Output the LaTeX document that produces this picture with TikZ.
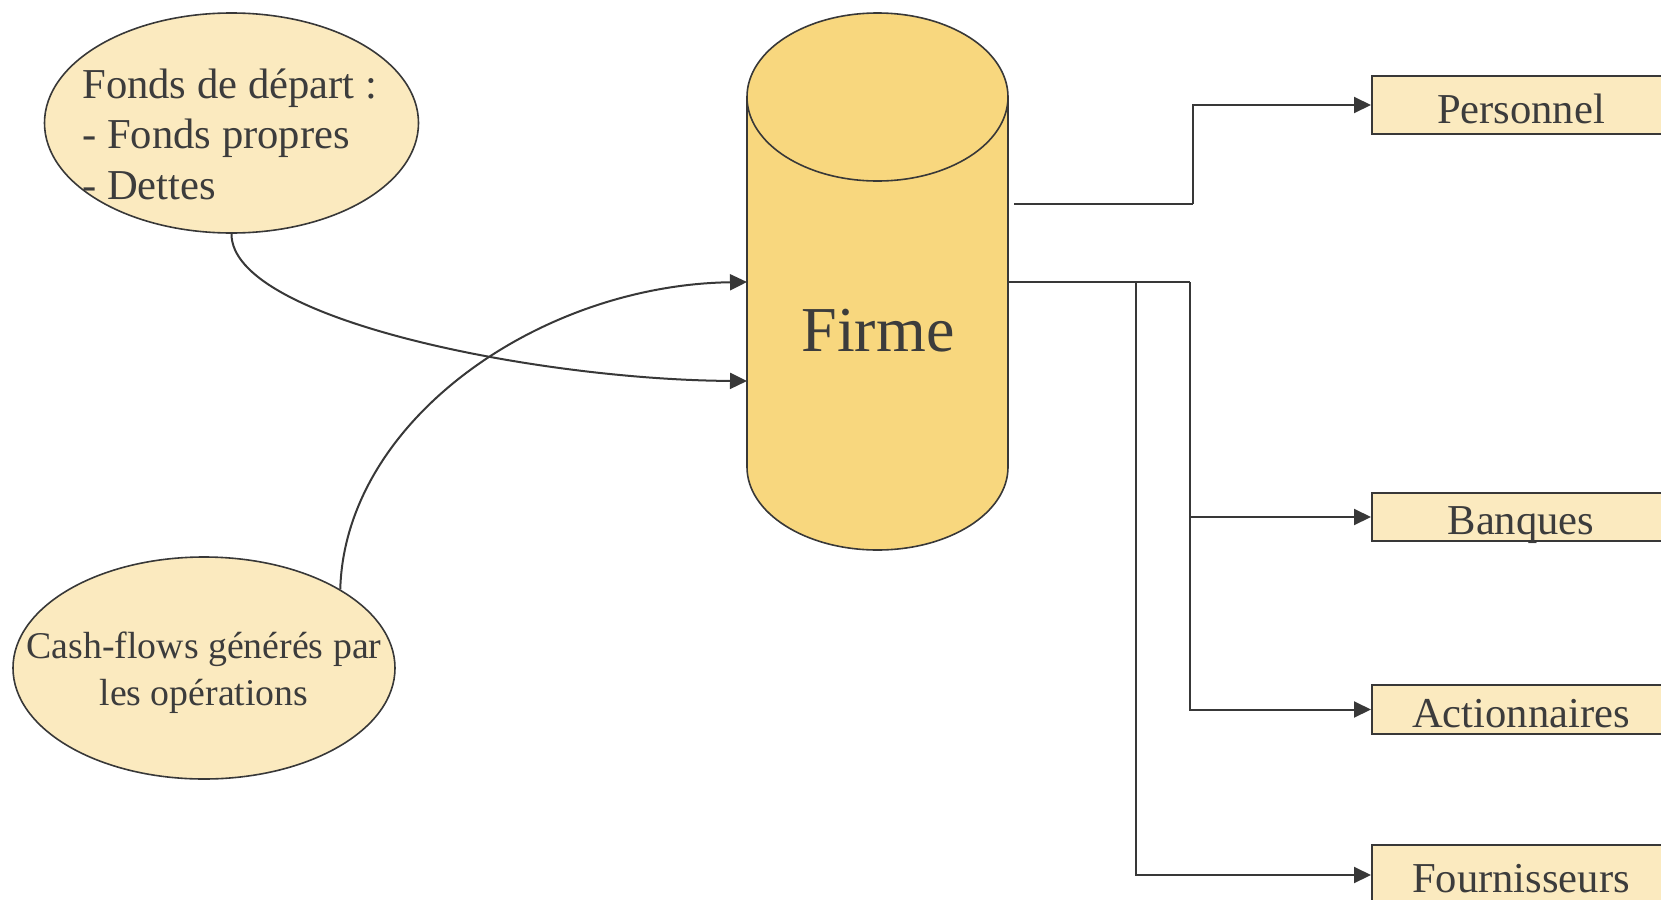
\documentclass[tikz,border=0pt]{standalone}
\usepackage{fontspec}
\setmainfont{Liberation Serif}
\usetikzlibrary{arrows.meta,shapes.geometric}
\definecolor{lightfill}{HTML}{FBEABF}
\definecolor{cylfill}{HTML}{F8D77E}
\definecolor{ink}{HTML}{383838}
\definecolor{txt}{HTML}{3C3C3C}
\begin{document}
\begin{tikzpicture}[x=0.5pt,y=-0.5pt,
  conn/.style={draw=ink, line width=1pt},
  arr/.style={conn, -{Triangle[length=8.5pt,width=8pt]}},
  bubble/.style={ellipse, draw=ink, line width=0.8pt, fill=lightfill, inner sep=0pt},
  destbox/.style={rectangle, draw=ink, line width=1pt, fill=lightfill, minimum width=149pt, inner sep=0pt},
  lbl/.style={text=txt, inner sep=0pt},
  big/.style={font=\fontsize{21.3}{25}\selectfont},
  mid/.style={font=\fontsize{18.9}{23.5}\selectfont},
  huge/.style={font=\fontsize{32}{36}\selectfont}
]
\useasboundingbox (0,0) rectangle (1661,900);

% source bubbles
\node[bubble, minimum width=187pt, minimum height=110pt] (fonds) at (231.5,123) {};
\node[bubble, minimum width=191pt, minimum height=111pt] (cash) at (204,668) {};

\node[lbl, big, anchor=base west] (f1) at (82,98) {Fonds de départ :};
\node[lbl, big, anchor=base west] (f2) at (82,148) {- Fonds propres};
\node[lbl, big, anchor=base west] (f3) at (82,199) {- Dettes};

\node[lbl, mid, anchor=base] (c1) at (204,658) {Cash-flows générés par};
\node[lbl, mid, anchor=base] (c2) at (204,705) {les opérations};

% cylinder (firm)
\filldraw[fill=cylfill, draw=ink, line width=0.8pt] (877.5,467) ellipse [x radius=130.5, y radius=83];
\fill[cylfill] (747,97) rectangle (1008,467);
\draw[ink, line width=0.8pt] (747,97) -- (747,467) (1008,97) -- (1008,467);
\filldraw[fill=cylfill, draw=ink, line width=0.8pt] (877.5,97) ellipse [x radius=130.5, y radius=84];
\node[lbl, huge, anchor=base] (firme) at (878,351) {Firme};

\coordinate (in1) at (747,282);
\coordinate (in2) at (747,381);
\coordinate (out1) at (1014,204);
\coordinate (out2) at (1008,282);
\coordinate (j1) at (1193,204);
\coordinate (j2) at (1136,282);
\coordinate (j3) at (1190,282);

% destination boxes
\node[destbox, minimum height=29pt] (pers) at (1521,105) {};
\node[destbox, minimum height=24pt] (banq) at (1521,517) {};
\node[destbox, minimum height=24.5pt] (act) at (1521,709.5) {};
\node[destbox, minimum height=30pt] (four) at (1521,875) {};

\node[lbl, big, anchor=base] (tp) at (1521,123) {Personnel};
\node[lbl, big, anchor=base] (tb) at (1521,534) {Banques};
\node[lbl, big, anchor=base] (ta) at (1521,727) {Actionnaires};
\node[lbl, big, anchor=base] (tf) at (1521,892) {Fournisseurs};

% inflows
\draw[arr] (fonds.south) .. controls (231,320) and (540,380) .. (in2);
\draw[arr] (cash.30) .. controls (345,420) and (540,285) .. (in1);

% outflows
\draw[conn] (out1) -- (j1);
\draw[arr] (j1) |- (pers.west);
\draw[conn] (out2) -- (j3);
\draw[arr] (j3) |- (banq.west);
\draw[arr] (j3) |- (act.west);
\draw[arr] (j2) |- (four.west);
\end{tikzpicture}
\end{document}
